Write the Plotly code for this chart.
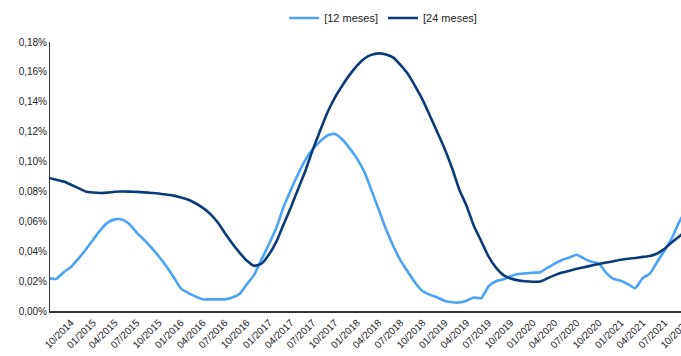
import pandas as pd
import plotly.graph_objects as go

# Monthly observations, Jul 2014 .. Nov 2021 (values in %)
start_month = "2014-07-01"
serie_12m = [
    0.0220, 0.0215, 0.0260, 0.0295, 0.0350, 0.0410, 0.0477, 0.0543, 0.0590, 0.0613,
    0.0612, 0.0580, 0.0525, 0.0476, 0.0423, 0.0365, 0.0300, 0.0228, 0.0150, 0.0120,
    0.0098, 0.0078, 0.0078, 0.0078, 0.0078, 0.0090, 0.0115, 0.0180, 0.0245, 0.0347,
    0.0450, 0.0561, 0.0693, 0.0810, 0.0915, 0.1013, 0.1082, 0.1135, 0.1175, 0.1185,
    0.1148, 0.1090, 0.1020, 0.0929, 0.0812, 0.0679, 0.0549, 0.0433, 0.0337, 0.0260,
    0.0186, 0.0132, 0.0108, 0.0090, 0.0067, 0.0058, 0.0057, 0.0069, 0.0090, 0.0086,
    0.0165, 0.0199, 0.0212, 0.0233, 0.0248, 0.0252, 0.0256, 0.0260, 0.0288, 0.0317,
    0.0341, 0.0358, 0.0376, 0.0350, 0.0329, 0.0318, 0.0255, 0.0215, 0.0203, 0.0178,
    0.0152, 0.0220, 0.0250, 0.0330, 0.0405, 0.0490, 0.0600, 0.0680, 0.0740,
]
serie_24m = [
    0.0890, 0.0878, 0.0866, 0.0845, 0.0822, 0.0800, 0.0793, 0.0790, 0.0792, 0.0798,
    0.0800, 0.0799, 0.0797, 0.0794, 0.0790, 0.0786, 0.0779, 0.0772, 0.0760, 0.0744,
    0.0721, 0.0690, 0.0650, 0.0594, 0.0522, 0.0452, 0.0389, 0.0336, 0.0302, 0.0318,
    0.0380, 0.0468, 0.0576, 0.0693, 0.0815, 0.0940, 0.1078, 0.1208, 0.1331, 0.1428,
    0.1509, 0.1580, 0.1642, 0.1690, 0.1714, 0.1724, 0.1716, 0.1695, 0.1645, 0.1584,
    0.1500, 0.1411, 0.1302, 0.1194, 0.1081, 0.0950, 0.0815, 0.0703, 0.0570, 0.0467,
    0.0365, 0.0290, 0.0240, 0.0217, 0.0205, 0.0199, 0.0196, 0.0198, 0.0218, 0.0240,
    0.0257, 0.0270, 0.0282, 0.0293, 0.0304, 0.0314, 0.0324, 0.0333, 0.0343, 0.0350,
    0.0355, 0.0362, 0.0368, 0.0385, 0.0416, 0.0460, 0.0500, 0.0540, 0.0580,
]
dates = pd.date_range(start_month, periods=len(serie_12m), freq="MS")

tick_dates = pd.date_range("2014-10-01", "2021-10-01", freq="3MS")
tick_labels = [d.strftime("%m/%Y") for d in tick_dates]
y_ticks = [i * 0.0002 for i in range(10)]

FONT = "Arial, 'Liberation Sans', sans-serif"

fig = go.Figure()
fig.add_trace(go.Scatter(
    x=dates, y=[v / 100 for v in serie_12m], name="[12 meses]", mode="lines",
    line=dict(color="#4aa3f5", width=2.6, shape="spline", smoothing=0.5),
))
fig.add_trace(go.Scatter(
    x=dates, y=[v / 100 for v in serie_24m], name="[24 meses]", mode="lines",
    line=dict(color="#0b3a78", width=2.6, shape="spline", smoothing=0.5),
))

fig.update_layout(
    width=692, height=356,
    margin=dict(l=50, r=0, t=42, b=45),
    paper_bgcolor="white", plot_bgcolor="white",
    separators=",.",
    font=dict(family=FONT, size=10, color="#222222"),
    showlegend=True,
    legend=dict(orientation="h", x=0.519, xanchor="center", y=1.089, yanchor="middle",
                font=dict(family=FONT, size=11, color="#222222"),
                bgcolor="rgba(0,0,0,0)"),
    xaxis=dict(
        range=["2014-07-06", "2021-10-23"],
        tickmode="array", tickvals=tick_dates, ticktext=tick_labels,
        tickangle=-45, showgrid=False, zeroline=False,
        showline=True, linecolor="#333333", linewidth=2,
        ticks="", tickfont=dict(family=FONT, size=10, color="#222222"),
        automargin=False,
    ),
    yaxis=dict(
        range=[0, 0.0018], tickmode="array", tickvals=y_ticks,
        tickformat=".2%", showgrid=False, zeroline=False,
        showline=True, linecolor="#333333", linewidth=1,
        ticks="", tickfont=dict(family=FONT, size=10, color="#222222"),
        automargin=False,
    ),
)

fig.write_html(
    "out.html",
    config={"displayModeBar": False},
    post_script="document.body.style.margin='0px';document.body.style.overflow='hidden';",
)
